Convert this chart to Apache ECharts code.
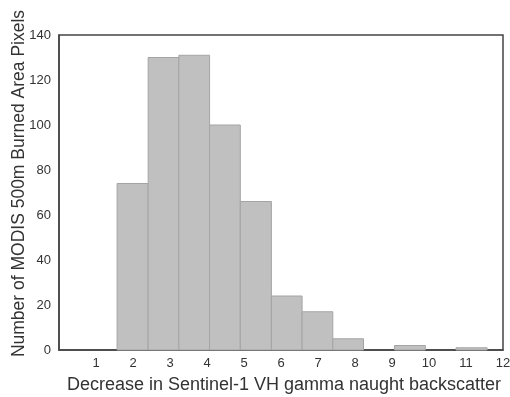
<!DOCTYPE html>
<html><head><meta charset="utf-8">
<script src="https://cdn.jsdelivr.net/npm/echarts@6/dist/echarts.min.js"></script>
<style>html,body{margin:0;padding:0;background:#fff}#c{width:510px;height:397px}</style>
</head><body><div id="c"></div>
<script>
var binEdges = [1.57, 2.41, 3.24, 4.07, 4.90, 5.74, 6.57, 7.40, 8.23, 9.07, 9.90, 10.73, 11.57];
var counts = [74, 130, 131, 100, 66, 24, 17, 5, 0, 2, 0, 1];
var xTicks = [1,2,3,4,5,6,7,8,9,10,11,12];
var yTicks = [0,20,40,60,80,100,120,140];
var xTitle = 'Decrease in Sentinel-1 VH gamma naught backscatter';
var yTitle = 'Number of MODIS 500m Burned Area Pixels';

var data = counts.map(function (c, i) { return [binEdges[i], binEdges[i + 1], c]; });
var chart = echarts.init(document.getElementById('c'), null, {renderer: 'canvas'});
var font = 'Liberation Sans, Arial, sans-serif';
chart.setOption({
  animation: false,
  grid: {left: 59, right: 7, top: 35, bottom: 47, containLabel: false, outerBoundsMode: 'none',
    show: true, borderColor: '#444', borderWidth: 1.5, backgroundColor: 'transparent'},
  xAxis: {
    type: 'value', min: 0, max: 12, interval: 1,
    axisLine: {show: true, lineStyle: {color: '#444', width: 1.5}},
    axisTick: {show: false}, splitLine: {show: false},
    axisLabel: {color: '#333', fontSize: 13, fontFamily: font, margin: 7,
      formatter: function (v) { return xTicks.indexOf(v) >= 0 ? String(v) : ''; }},
    name: xTitle, nameLocation: 'middle', nameGap: 26,
    nameTextStyle: {color: '#333', fontSize: 18, fontFamily: font, padding: [0, 0, 0, 6]}
  },
  yAxis: {
    type: 'value', min: 0, max: 140, interval: 20,
    axisLine: {show: true, lineStyle: {color: '#444', width: 1.5}},
    axisTick: {show: false}, splitLine: {show: false},
    axisLabel: {color: '#333', fontSize: 13, fontFamily: font, margin: 8,
      formatter: function (v) { return yTicks.indexOf(v) >= 0 ? String(v) : ''; }},
    name: yTitle, nameLocation: 'middle', nameGap: 31, nameMoveOverlap: false,
    nameTextStyle: {color: '#333', fontSize: 17.5, fontFamily: font, padding: [0, 0, 0, 18]}
  },
  series: [{
    type: 'custom',
    data: data,
    renderItem: function (params, api) {
      if (api.value(2) <= 0) { return null; }
      var p0 = api.coord([api.value(0), api.value(2)]);
      var p1 = api.coord([api.value(1), 0]);
      return {
        type: 'rect',
        shape: {x: p0[0], y: p0[1], width: p1[0] - p0[0], height: p1[1] - p0[1]},
        style: {fill: '#c0c0c0', stroke: '#a4a4a4', lineWidth: 1}
      };
    }
  }]
});
</script></body></html>
